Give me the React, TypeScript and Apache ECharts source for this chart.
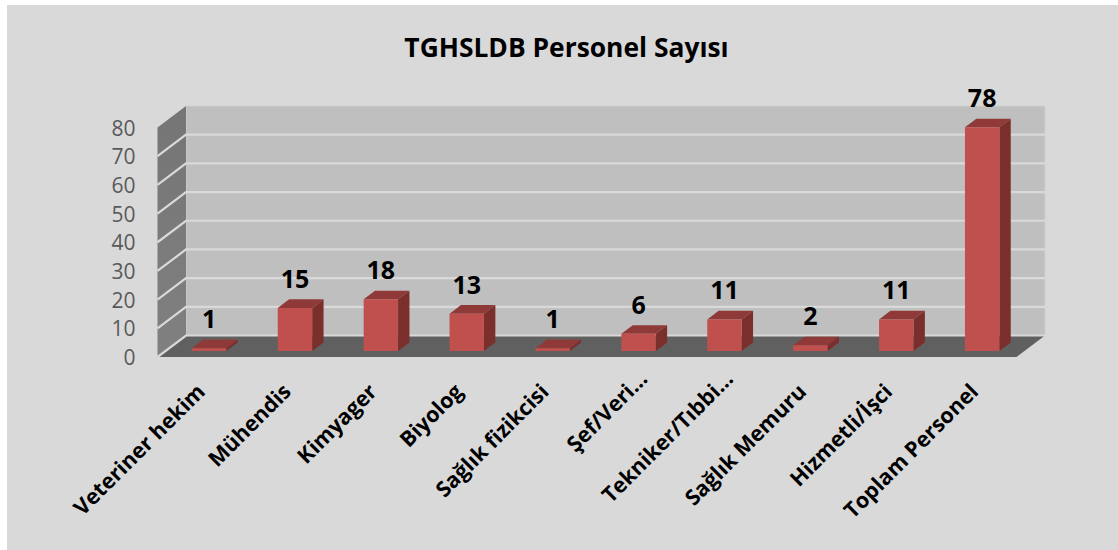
import React, { useEffect, useRef } from "react";
import * as echarts from "echarts";

const titleText = "TGHSLDB Personel Sayısı";
const categories = [
  "Veteriner hekim",
  "Mühendis",
  "Kimyager",
  "Biyolog",
  "Sağlık fizikcisi",
  "Şef/Veri…",
  "Tekniker/Tıbbi…",
  "Sağlık Memuru",
  "Hizmetli/İşci",
  "Toplam Personel",
];
const values = [1, 15, 18, 13, 1, 6, 11, 2, 11, 78];
const gridTicks = [0, 10, 20, 30, 40, 50, 60, 70, 80];

const FONT = "'Open Sans', sans-serif";
const DEPTH_X = 28.5;
const DEPTH_Y = 21.5;
const BAR_W = 34.4;
const BAR_DX = 11.4;
const BAR_DY = 8.6;
const BAR_SHIFT_X = 8.6;
const BAR_SHIFT_Y = 6;

export default function App() {
  const ref = useRef<HTMLDivElement>(null);
  useEffect(() => {
    document.body.style.margin = "0";
    const chart = echarts.init(ref.current!, undefined, { renderer: "svg" });
    chart.setOption({
      animation: false,
      backgroundColor: "#ffffff",
      graphic: [
        {
          type: "rect",
          z: -10,
          silent: true,
          shape: { x: 7, y: 5, width: 1111, height: 545 },
          style: { fill: "#d9d9d9" },
        },
      ],
      title: {
        text: titleText,
        left: 561.5,
        top: 29,
        textAlign: "center",
        textStyle: { fontFamily: FONT, fontSize: 26.4, fontWeight: "bold", color: "#000000" },
      },
      grid: { left: 157.5, top: 127.5, width: 859, height: 229.5, containLabel: false },
      xAxis: {
        type: "category",
        data: categories.map((c) =>
          c.endsWith("…") ? { value: c, textStyle: { padding: [0, -18, 0, 0] } } : c
        ),
        axisLine: { show: false },
        axisTick: { show: false },
        axisLabel: {
          interval: 0,
          rotate: 45,
          margin: 30,
          fontFamily: FONT,
          fontSize: 21.5,
          fontWeight: "bold",
          color: "#000000",
        },
      },
      yAxis: {
        type: "value",
        min: 0,
        max: 80,
        interval: 10,
        axisLine: { show: false },
        axisTick: { show: false },
        splitLine: { show: false },
        axisLabel: { margin: 22, fontFamily: FONT, fontSize: 21, color: "#595959" },
      },
      series: [
        {
          type: "custom",
          name: "walls",
          silent: true,
          clip: false,
          z: 1,
          data: [[0, 0]],
          renderItem: (params: any, api: any) => {
            const { x, y, width, height } = params.coordSys;
            const b = y + height;
            const r = x + width;
            return {
              type: "group",
              children: [
                {
                  type: "polygon",
                  shape: { points: [[x + DEPTH_X, y - DEPTH_Y], [r + DEPTH_X, y - DEPTH_Y], [r + DEPTH_X, b - DEPTH_Y], [x + DEPTH_X, b - DEPTH_Y]] },
                  style: { fill: "#bfbfbf", stroke: "#cfcfcf", lineWidth: 1 },
                },
                {
                  type: "polygon",
                  shape: { points: [[x, b], [x + DEPTH_X, b - DEPTH_Y], [x + DEPTH_X, y - DEPTH_Y], [x, y]] },
                  style: {
                    fill: new echarts.graphic.LinearGradient(0, 0, 0, 1, [
                      { offset: 0, color: "#757575" },
                      { offset: 1, color: "#808080" },
                    ]),
                  },
                },
                {
                  type: "polygon",
                  shape: { points: [[x, b], [r, b], [r + DEPTH_X, b - DEPTH_Y], [x + DEPTH_X, b - DEPTH_Y]] },
                  style: { fill: "#606060" },
                },
              ],
            };
          },
        },
        {
          type: "custom",
          name: "grid",
          silent: true,
          clip: false,
          z: 2,
          data: gridTicks.slice(0, -1).map((t) => [0, t]),
          renderItem: (params: any, api: any) => {
            const { x, width } = params.coordSys;
            const yy = api.coord([0, api.value(1)])[1];
            return {
              type: "polyline",
              shape: { points: [[x, yy], [x + DEPTH_X, yy - DEPTH_Y], [x + width + DEPTH_X, yy - DEPTH_Y]] },
              style: { fill: "none", stroke: "#d9d9d9", lineWidth: 2.2 },
            };
          },
        },
        {
          type: "custom",
          name: "Personel",
          silent: true,
          clip: false,
          z: 3,
          data: values.map((v, i) => [i, v]),
          renderItem: (params: any, api: any) => {
            const i = api.value(0);
            const v = api.value(1);
            const cx = api.coord([i, 0])[0] + BAR_SHIFT_X;
            const y0 = api.coord([i, 0])[1] - BAR_SHIFT_Y;
            const y1 = api.coord([i, v])[1] - BAR_SHIFT_Y;
            const l = cx - BAR_W / 2;
            const r = cx + BAR_W / 2;
            return {
              type: "group",
              children: [
                {
                  type: "polygon",
                  shape: { points: [[l, y1], [r, y1], [r + BAR_DX, y1 - BAR_DY], [l + BAR_DX, y1 - BAR_DY]] },
                  style: { fill: "#8f3a38" },
                },
                {
                  type: "polygon",
                  shape: { points: [[r, y0], [r + BAR_DX, y0 - BAR_DY], [r + BAR_DX, y1 - BAR_DY], [r, y1]] },
                  style: { fill: "#7b2f2d" },
                },
                {
                  type: "rect",
                  shape: { x: l, y: y1, width: BAR_W, height: y0 - y1 },
                  style: { fill: "#c0504d" },
                },
                {
                  type: "text",
                  style: {
                    text: String(v),
                    x: cx,
                    y: y1 - 30,
                    textAlign: "center",
                    textVerticalAlign: "middle",
                    fontFamily: FONT,
                    fontSize: 25,
                    fontWeight: "bold",
                    fill: "#000000",
                  },
                },
              ],
            };
          },
        },
      ],
    });
    return () => chart.dispose();
  }, []);
  return <div ref={ref} style={{ width: 1118, height: 550 }} />;
}
